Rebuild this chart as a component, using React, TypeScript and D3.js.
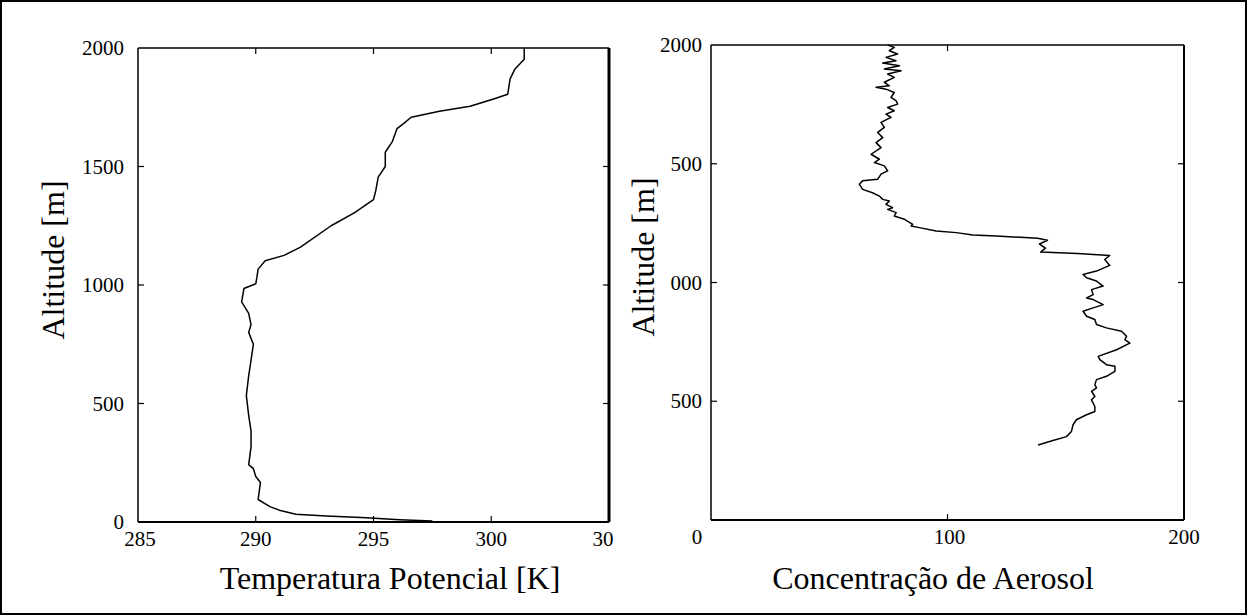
import React from "react";
import * as d3 from "d3";

// ---- Data ----
// Left panel: potential temperature profile [K] vs altitude [m]
const tempValues = [301.4, 301.4, 301.0, 300.8, 300.7, 300.1, 299.1, 297.8, 296.6, 296.3, 296.0, 295.8, 295.5, 295.5, 295.5, 295.2, 295.1, 295.0, 294.2, 293.2, 291.9, 291.2, 290.4, 290.1, 290.05, 290.0, 289.5, 289.4, 289.7, 289.8, 289.7, 289.9, 289.8, 289.7, 289.6, 289.7, 289.8, 289.8, 289.7, 289.9, 290.0, 290.2, 290.1, 290.6, 291.0, 291.7, 293.0, 294.7, 296.1, 297.5];
const tempAltitudes = [2000, 1953, 1910, 1870, 1805, 1785, 1754, 1733, 1708, 1683, 1660, 1605, 1560, 1533, 1500, 1455, 1400, 1360, 1305, 1250, 1160, 1125, 1102, 1067, 1033, 1005, 985, 929, 880, 833, 800, 750, 683, 617, 533, 450, 383, 317, 242, 225, 192, 167, 95, 65, 50, 33, 25, 18, 10, 4];

// Right panel: aerosol concentration vs altitude [m]
const aeroValues = [74.7, 77.5, 75.4, 78.9, 74.0, 78.2, 72.6, 79.7, 73.3, 80.4, 74.7, 77.5, 73.3, 75.4, 69.8, 74.0, 77.5, 76.1, 78.3, 78.9, 74.7, 77.5, 74.0, 76.1, 71.9, 73.3, 70.5, 72.6, 69.8, 71.9, 67.7, 71.2, 69.1, 73.3, 74.7, 71.9, 70.5, 64.1, 62.7, 64.1, 68.3, 71.2, 72.6, 75.4, 74.0, 76.8, 74.7, 78.3, 77.5, 81.8, 85.3, 84.6, 88.1, 95.2, 103.7, 110.7, 120.6, 138.1, 142.3, 138.9, 141.4, 139.4, 155.0, 168.6, 166.5, 168.6, 163.0, 157.3, 158.8, 163.0, 165.8, 160.9, 161.6, 158.8, 161.6, 165.8, 161.6, 157.3, 158.8, 162.3, 163.0, 167.2, 173.6, 175.7, 175.0, 177.1, 171.5, 163.7, 164.4, 167.2, 170.8, 170.8, 167.2, 163.0, 162.3, 163.0, 160.9, 162.3, 160.9, 162.3, 162.3, 158.8, 154.5, 153.1, 152.4, 150.3, 144.6, 138.3];
const aeroAltitudes = [2000, 1990, 1976, 1962, 1948, 1934, 1924, 1913, 1899, 1892, 1878, 1864, 1843, 1828, 1822, 1814, 1800, 1779, 1765, 1751, 1737, 1723, 1709, 1695, 1674, 1653, 1632, 1610, 1589, 1568, 1540, 1519, 1505, 1491, 1470, 1456, 1435, 1428, 1414, 1392, 1378, 1364, 1350, 1343, 1329, 1315, 1308, 1294, 1280, 1266, 1245, 1238, 1231, 1217, 1210, 1200, 1196, 1186, 1178, 1162, 1145, 1128, 1122, 1114, 1097, 1072, 1048, 1034, 1020, 1006, 985, 970, 949, 935, 928, 907, 893, 879, 858, 844, 823, 809, 795, 774, 759, 745, 717, 689, 675, 654, 647, 626, 605, 591, 570, 556, 542, 520, 506, 478, 457, 443, 422, 401, 373, 351, 335, 316];

// Ticks and tick labels (as printed in the reference)
const tempTicks = [285, 290, 295, 300, 305];
const tempTickLabels = ["285", "290", "295", "300", "30"];
const altTicks = [0, 500, 1000, 1500, 2000];
const altTickLabelsLeft = ["0", "500", "1000", "1500", "2000"];
const altTickLabelsRight = ["", "500", "000", "500", "2000"];
const aeroTicks = [0, 100, 200];
const aeroTickLabels = ["0", "100", "200"];

const FONT = "'Liberation Serif', 'Times New Roman', serif";

type PanelProps = {
  x: d3.ScaleLinear<number, number>;
  y: d3.ScaleLinear<number, number>;
  xs: number[];
  ys: number[];
  xTicks: number[];
  xLabels: string[];
  xLabelDx: number[];
  yTicks: number[];
  yLabels: string[];
  yLabelGap: number;
  xTitle: string;
  xTitleX: number;
  yTitleX: number;
  yTitleY: number;
  rightWidth: number;
};

function Panel(p: PanelProps) {
  const [x0, x1] = p.x.range();
  const [yb, yt] = p.y.range();
  const pts: [number, number][] = p.xs.map((v, i) => [v, p.ys[i]]);
  const line = d3
    .line<[number, number]>()
    .x((d) => p.x(d[0]))
    .y((d) => p.y(d[1]));
  const tl = 6;
  const xd = p.x.domain();
  const yd = p.y.domain();
  const innerX = p.xTicks.filter((t) => t > xd[0] && t < xd[1]);
  const innerY = p.yTicks.filter((t) => t > yd[0] && t < yd[1]);
  return (
    <g>
      <line x1={x0} y1={yt} x2={x1} y2={yt} stroke="#000" strokeWidth={1.5} />
      <line x1={x0} y1={yb} x2={x1} y2={yb} stroke="#000" strokeWidth={2} />
      <line x1={x0} y1={yt} x2={x0} y2={yb} stroke="#000" strokeWidth={1.5} />
      <line x1={x1} y1={yt} x2={x1} y2={yb} stroke="#000" strokeWidth={p.rightWidth} />
      {innerX.map((t) => (
        <g key={"xt" + t}>
          <line x1={p.x(t)} x2={p.x(t)} y1={yb} y2={yb - tl} stroke="#000" strokeWidth={1.2} />
          <line x1={p.x(t)} x2={p.x(t)} y1={yt} y2={yt + tl} stroke="#000" strokeWidth={1.2} />
        </g>
      ))}
      {innerY.map((t) => (
        <g key={"yt" + t}>
          <line x1={x0} x2={x0 + tl} y1={p.y(t)} y2={p.y(t)} stroke="#000" strokeWidth={1.2} />
          <line x1={x1} x2={x1 - tl} y1={p.y(t)} y2={p.y(t)} stroke="#000" strokeWidth={1.2} />
        </g>
      ))}
      {p.xTicks.map((t, i) => (
        <text
          key={"xl" + t}
          x={p.x(t) + p.xLabelDx[i]}
          y={yb + 24}
          textAnchor="middle"
          fontFamily={FONT}
          fontSize={21}
          fill="#000"
        >
          {p.xLabels[i]}
        </text>
      ))}
      {p.yTicks.map((t, i) =>
        p.yLabels[i] ? (
          <text
            key={"yl" + t}
            x={x0 - p.yLabelGap}
            y={p.y(t) + 7}
            textAnchor="end"
            fontFamily={FONT}
            fontSize={21}
            fill="#000"
          >
            {p.yLabels[i]}
          </text>
        ) : null
      )}
      <path d={line(pts) || ""} fill="none" stroke="#000" strokeWidth={1.5} strokeLinejoin="round" />
      <text x={p.xTitleX} y={589} textAnchor="middle" fontFamily={FONT} fontSize={32} fill="#000">
        {p.xTitle}
      </text>
      <text
        transform={`translate(${p.yTitleX},${p.yTitleY}) rotate(-90)`}
        textAnchor="middle"
        fontFamily={FONT}
        fontSize={32}
        fill="#000"
      >
        Altitude [m]
      </text>
    </g>
  );
}

export default function App() {
  const xL = d3.scaleLinear().domain([285, 305]).range([138, 609]);
  const yL = d3.scaleLinear().domain([0, 2000]).range([522, 48]);
  const xR = d3.scaleLinear().domain([0, 200]).range([711, 1184]);
  const yR = d3.scaleLinear().domain([0, 2000]).range([520, 45]);
  return (
    <svg
      width={1248}
      height={616}
      style={{ position: "absolute", left: 0, top: 0, background: "#fff" }}
    >
      <rect x={0} y={0} width={1248} height={616} fill="#fff" />
      <rect x={1} y={1} width={1245} height={613} fill="none" stroke="#000" strokeWidth={2} />
      <Panel
        x={xL}
        y={yL}
        xs={tempValues}
        ys={tempAltitudes}
        xTicks={tempTicks}
        xLabels={tempTickLabels}
        xLabelDx={[2, 0, 0, 0, -6]}
        yTicks={altTicks}
        yLabels={altTickLabelsLeft}
        yLabelGap={14}
        xTitle="Temperatura Potencial [K]"
        xTitleX={390}
        yTitleX={64}
        yTitleY={260}
        rightWidth={3}
      />
      <Panel
        x={xR}
        y={yR}
        xs={aeroValues}
        ys={aeroAltitudes}
        xTicks={aeroTicks}
        xLabels={aeroTickLabels}
        xLabelDx={[-14, 2, 0]}
        yTicks={altTicks}
        yLabels={altTickLabelsRight}
        yLabelGap={9}
        xTitle="Concentração de Aerosol"
        xTitleX={933}
        yTitleX={654}
        yTitleY={257}
        rightWidth={2}
      />
    </svg>
  );
}
